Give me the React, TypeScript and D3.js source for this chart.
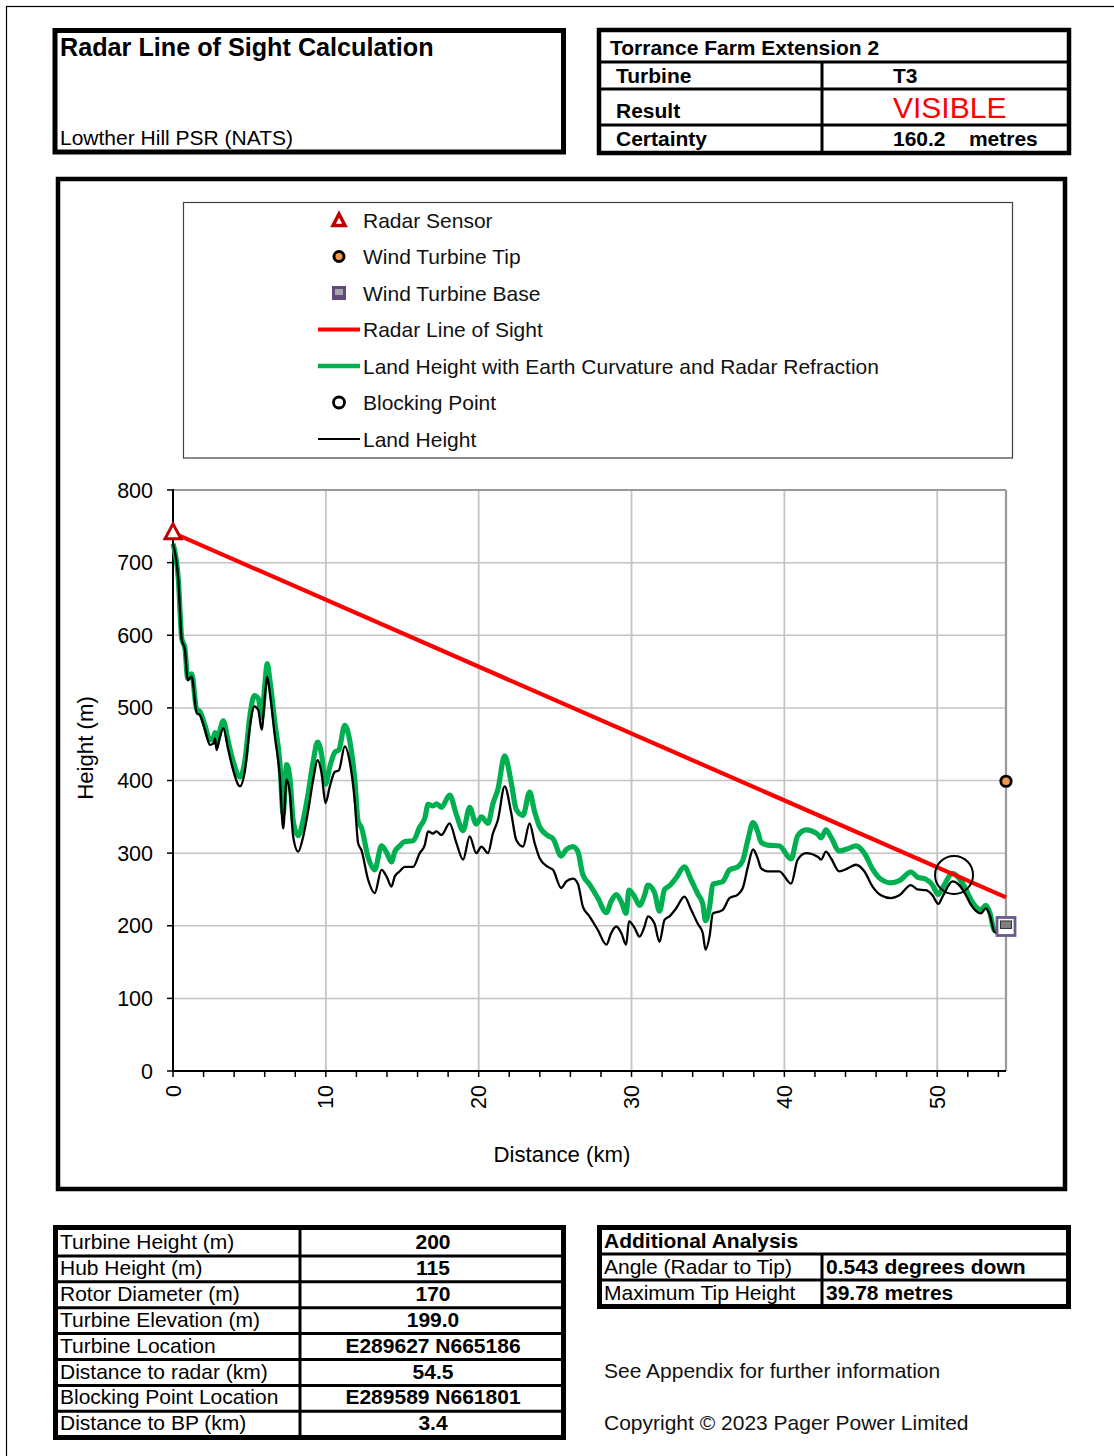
import React from "react";
import * as d3 from "d3";

// Terrain profile from the radar (0 km) to the turbine (54.5 km)
const distanceKm = [
  0, 0.35, 0.57, 0.78, 0.96, 1.22, 1.55, 1.76, 2.09, 2.42, 2.64, 2.75, 2.85, 3.07, 3.29, 3.62, 3.94, 4.38, 4.71, 5.03,
  5.32, 5.58, 5.8, 6.01, 6.16, 6.34, 6.67, 6.99, 7.21, 7.43, 7.65, 7.86, 8.19, 8.52, 8.85, 9.17, 9.46, 9.72, 9.98, 10.26,
  10.59, 10.85, 11.24, 11.57, 11.9, 12.11, 12.33, 12.77, 13.2, 13.64, 13.97, 14.29, 14.51, 14.84, 15.16, 15.71, 16.14, 16.47, 16.69, 17.02,
  17.24, 17.56, 18.1, 18.54, 18.98, 19.41, 19.84, 20.18, 20.61, 20.93, 21.26, 21.7, 22.13, 22.46, 22.9, 23.33, 23.66, 23.99, 24.53, 24.86,
  25.4, 25.73, 26.17, 26.49, 26.82, 27.25, 27.8, 28.35, 28.67, 29.0, 29.33, 29.65, 29.83, 30.2, 30.52, 30.85, 31.07, 31.5, 31.83, 32.16,
  32.48, 32.92, 33.46, 33.9, 34.33, 34.66, 34.84, 35.1, 35.32, 35.64, 35.97, 36.41, 36.95, 37.28, 37.6, 37.95, 38.25, 38.48, 38.91, 39.67,
  40.44, 40.87, 41.42, 42.18, 42.4, 42.72, 43.05, 43.59, 44.14, 44.69, 45.23, 45.77, 46.32, 46.97, 47.52, 48.28, 48.71, 49.26, 49.69, 50.07,
  50.35, 51.0, 51.44, 51.88, 52.2, 52.86, 53.18, 53.44, 53.73, 53.95, 54.3,
];

// Land height (m)
const landHeight = [
  726, 676, 594, 580, 538, 543, 493, 490, 470, 449, 451, 458, 442, 460, 472, 442, 414, 392, 414, 474,
  502, 497, 470, 515, 543, 520, 460, 405, 334, 401, 382, 323, 302, 323, 359, 401, 428, 410, 369, 392,
  412, 414, 447, 425, 370, 314, 304, 263, 245, 277, 268, 254, 268, 275, 281, 281, 300, 311, 330, 327,
  330, 325, 341, 314, 291, 323, 300, 309, 300, 327, 346, 392, 355, 318, 309, 341, 314, 293, 281, 277,
  252, 261, 265, 258, 226, 213, 194, 174, 190, 199, 190, 174, 206, 197, 185, 199, 213, 203, 178, 208,
  213, 224, 240, 222, 203, 190, 167, 185, 217, 219, 222, 238, 243, 252, 280, 305, 293, 279, 275, 275,
  258, 291, 300, 295, 291, 302, 293, 275, 279, 284, 275, 254, 242, 238, 242, 256, 250, 249, 242, 230,
  240, 261, 256, 242, 229, 217, 224, 215, 192, 190, 196,
];

// Land height with earth curvature and radar refraction (m)
const adjustedHeight = [
  726, 677, 596, 582, 541, 547, 498, 495, 476, 456, 459, 466, 451, 469, 482, 453, 426, 405, 428, 489,
  517, 513, 487, 532, 561, 538, 479, 425, 354, 422, 403, 345, 324, 346, 383, 426, 453, 436, 395, 419,
  439, 442, 476, 454, 400, 344, 335, 294, 277, 310, 301, 288, 302, 310, 316, 317, 336, 348, 367, 365,
  368, 363, 380, 353, 331, 363, 340, 350, 341, 368, 388, 434, 397, 360, 352, 384, 357, 336, 324, 320,
  296, 305, 309, 302, 270, 257, 238, 218, 234, 243, 233, 217, 249, 240, 228, 242, 256, 246, 220, 250,
  255, 266, 281, 263, 244, 230, 207, 225, 257, 259, 261, 277, 281, 290, 317, 342, 330, 315, 311, 310,
  292, 324, 332, 326, 321, 332, 322, 303, 306, 310, 300, 278, 264, 259, 262, 274, 267, 264, 256, 243,
  252, 272, 265, 250, 236, 222, 228, 218, 194, 192, 197,
];

// Radar line of sight (km, m)
const losDistance = [0, 54.5];
const losHeight = [741, 239];

// Point markers: [distance km, height m]
const radarSensor = [0, 741];
const turbineTip = [54.5, 399];
const turbineBase = [54.5, 199];
const blockingPoint = [51.1, 270];

const yTicks = [0, 100, 200, 300, 400, 500, 600, 700, 800];
const xLabelTicks = [0, 10, 20, 30, 40, 50];
const xMinorTicks = d3.range(0, 55, 2);

const legendItems = [
  "Radar Sensor",
  "Wind Turbine Tip",
  "Wind Turbine Base",
  "Radar Line of Sight",
  "Land Height with Earth Curvature and Radar Refraction",
  "Blocking Point",
  "Land Height",
];

const summaryRows: [string, string][] = [
  ["Turbine Height (m)", "200"],
  ["Hub Height (m)", "115"],
  ["Rotor Diameter (m)", "170"],
  ["Turbine Elevation (m)", "199.0"],
  ["Turbine Location", "E289627 N665186"],
  ["Distance to radar (km)", "54.5"],
  ["Blocking Point Location", "E289589 N661801"],
  ["Distance to BP (km)", "3.4"],
];

const analysisRows: [string, string][] = [
  ["Angle (Radar to Tip)", "0.543 degrees down"],
  ["Maximum Tip Height", "39.78 metres"],
];

const FONT = "'Liberation Sans', Arial, Helvetica, sans-serif";
const FS = 21;

const RED = "#ff0000";
const GREEN = "#00b050";
const GRID = "#c4c4c4";

function LegendSymbol({ kind, cx, cy }: { kind: number; cx: number; cy: number }) {
  switch (kind) {
    case 0:
      return (
        <path
          d={`M${cx},${cy - 6} L${cx + 6},${cy + 5.5} L${cx - 6},${cy + 5.5} Z`}
          fill="#fff"
          stroke="#c00000"
          strokeWidth={3.5}
        />
      );
    case 1:
      return <circle cx={cx} cy={cy} r={5} fill="#f79646" stroke="#000" strokeWidth={3} />;
    case 2:
      return (
        <g>
          <rect x={cx - 7} y={cy - 7} width={14} height={14} fill="#604a7b" />
          <rect x={cx - 4} y={cy - 4} width={8} height={6} fill="#a6a6a6" />
        </g>
      );
    case 3:
      return <line x1={cx - 21} x2={cx + 21} y1={cy} y2={cy} stroke={RED} strokeWidth={4} />;
    case 4:
      return <line x1={cx - 21} x2={cx + 21} y1={cy} y2={cy} stroke={GREEN} strokeWidth={4.5} />;
    case 5:
      return <circle cx={cx} cy={cy} r={5.5} fill="#fff" stroke="#000" strokeWidth={2.8} />;
    default:
      return <line x1={cx - 21} x2={cx + 21} y1={cy} y2={cy} stroke="#000" strokeWidth={2} />;
  }
}

export default function App() {
  const x = d3.scaleLinear().domain([0, 54.5]).range([173, 1006]);
  const y = d3.scaleLinear().domain([0, 800]).range([1071, 490]);

  const pts = distanceKm.map((d, i) => ({ d, land: landHeight[i], adj: adjustedHeight[i] }));
  const landLine = d3
    .line<{ d: number; land: number }>()
    .x((p) => x(p.d))
    .y((p) => y(p.land))
    .curve(d3.curveMonotoneX);
  const adjLine = d3
    .line<{ d: number; adj: number }>()
    .x((p) => x(p.d))
    .y((p) => y(p.adj))
    .curve(d3.curveMonotoneX);
  const losLine = d3
    .line<number>()
    .x((d) => x(d))
    .y((_, i) => y(losHeight[i]));

  const [x0, x1] = x.range();
  const [yb, yt] = y.range();

  const rx = x(radarSensor[0]);
  const ry = y(radarSensor[1]);
  const bx = x(turbineBase[0]);
  const by = y(turbineBase[1]);

  const legendX = 339;
  const legendY0 = 220;
  const legendStep = 36.5;

  return (
    <div style={{ position: "absolute", left: 0, top: 0 }}>
      <svg width={1114} height={1456} style={{ display: "block", fontFamily: FONT }}>
        <rect x={0} y={0} width={1114} height={1456} fill="#fff" />
        {/* page frame */}
        <rect x={6.5} y={6.5} width={1130} height={1470} fill="none" stroke="#000" strokeWidth={1.2} />

        {/* title box */}
        <rect x={55} y={30.5} width={508.5} height={121.5} fill="#fff" stroke="#000" strokeWidth={5} />
        <text x={60} y={56} fontSize={25.2} fontWeight="bold">Radar Line of Sight Calculation</text>
        <text x={60} y={145} fontSize={FS}>Lowther Hill PSR (NATS)</text>

        {/* result box */}
        <g>
          <rect x={599} y={30} width={470} height={123} fill="#fff" stroke="#000" strokeWidth={4.5} />
          <line x1={599} x2={1069} y1={62} y2={62} stroke="#000" strokeWidth={3} />
          <line x1={599} x2={1069} y1={89} y2={89} stroke="#000" strokeWidth={3} />
          <line x1={599} x2={1069} y1={125} y2={125} stroke="#000" strokeWidth={3} />
          <line x1={822} x2={822} y1={62} y2={153} stroke="#000" strokeWidth={3} />
          <text x={610} y={55} fontSize={FS} fontWeight="bold">Torrance Farm Extension 2</text>
          <text x={616} y={83} fontSize={FS} fontWeight="bold">Turbine</text>
          <text x={893} y={83} fontSize={FS} fontWeight="bold">T3</text>
          <text x={616} y={118} fontSize={FS} fontWeight="bold">Result</text>
          <text x={893} y={118} fontSize={30} fill={RED}>VISIBLE</text>
          <text x={616} y={146} fontSize={FS} fontWeight="bold">Certainty</text>
          <text x={893} y={146} fontSize={FS} fontWeight="bold" xmlSpace="preserve">160.2    metres</text>
        </g>

        {/* chart frame */}
        <rect x={58} y={179} width={1007} height={1010} fill="#fff" stroke="#000" strokeWidth={4.5} />

        {/* legend */}
        <rect x={183.5} y={202.5} width={829} height={255.5} fill="#fff" stroke="#404040" strokeWidth={1.2} />
        {legendItems.map((label, i) => {
          const cy = legendY0 + i * legendStep;
          return (
            <g key={label}>
              <LegendSymbol kind={i} cx={legendX} cy={cy} />
              <text x={363} y={cy + 7.5} fontSize={21} fill="#111">{label}</text>
            </g>
          );
        })}

        {/* grid */}
        {yTicks.slice(1, -1).map((t) => (
          <line key={`gy${t}`} x1={x0} x2={x1} y1={y(t)} y2={y(t)} stroke={GRID} strokeWidth={1.5} />
        ))}
        {xLabelTicks.slice(1).map((t) => (
          <line key={`gx${t}`} x1={x(t)} x2={x(t)} y1={yb} y2={yt} stroke={GRID} strokeWidth={1.8} />
        ))}
        <line x1={x0} x2={x1} y1={yt} y2={yt} stroke="#9a9a9a" strokeWidth={2.2} />
        <line x1={x1} x2={x1} y1={yt} y2={yb} stroke="#9a9a9a" strokeWidth={2.2} />

        {/* axes */}
        <line x1={x0} x2={x0} y1={yt - 1} y2={yb} stroke="#000" strokeWidth={2} />
        <line x1={x0} x2={x1} y1={yb} y2={yb} stroke="#000" strokeWidth={2} />
        {yTicks.map((t) => (
          <g key={`ty${t}`}>
            <line x1={x0 - 6} x2={x0} y1={y(t)} y2={y(t)} stroke="#000" strokeWidth={1.5} />
            <text x={153} y={y(t) + 7.5} fontSize={21.5} textAnchor="end">{t}</text>
          </g>
        ))}
        {xMinorTicks.map((t) => (
          <line key={`tx${t}`} x1={x(t)} x2={x(t)} y1={yb} y2={yb + 6} stroke="#000" strokeWidth={1.5} />
        ))}
        {xLabelTicks.map((t) => (
          <text
            key={`lx${t}`}
            transform={`translate(${x(t) + 7.5},${yb + 14}) rotate(-90)`}
            fontSize={21.5}
            textAnchor="end"
          >
            {t}
          </text>
        ))}
        <text x={562} y={1162} fontSize={22.2} textAnchor="middle">Distance (km)</text>
        <text transform={`translate(93,748) rotate(-90)`} fontSize={22.2} textAnchor="middle">Height (m)</text>

        {/* series */}
        <path d={adjLine(pts) ?? ""} fill="none" stroke={GREEN} strokeWidth={5.2} strokeLinejoin="round" />
        <path d={landLine(pts) ?? ""} fill="none" stroke="#000" strokeWidth={2.3} strokeLinejoin="round" />
        <path d={losLine(losDistance) ?? ""} fill="none" stroke={RED} strokeWidth={4.2} />

        {/* markers */}
        <path
          d={`M${rx},${ry - 9} L${rx + 8},${ry + 6} L${rx - 8},${ry + 6} Z`}
          fill="#fff"
          stroke="#c00000"
          strokeWidth={3}
        />
        <circle cx={x(turbineTip[0])} cy={y(turbineTip[1])} r={5.2} fill="#f79646" stroke="#000" strokeWidth={2.8} />
        <g>
          <rect x={bx - 9} y={by - 9} width={18} height={18} fill="#fff" stroke="#6c5a8a" strokeWidth={2.8} />
          <rect x={bx - 5.5} y={by - 5.5} width={11} height={7.5} fill="#7f7f7f" stroke="#333" strokeWidth={1} />
        </g>
        <circle cx={x(blockingPoint[0])} cy={y(blockingPoint[1])} r={19} fill="none" stroke="#000" strokeWidth={2} />

        {/* turbine summary table */}
        <g>
          <rect x={55.5} y={1227.5} width={508} height={210} fill="#fff" stroke="#000" strokeWidth={5} />
          {summaryRows.slice(1).map((_, i) => {
            const yy = 1230 + (i + 1) * 25.9;
            return <line key={`sr${i}`} x1={55} x2={564} y1={yy} y2={yy} stroke="#000" strokeWidth={3} />;
          })}
          <line x1={300} x2={300} y1={1228} y2={1437} stroke="#000" strokeWidth={3} />
          {summaryRows.map(([label, value], i) => {
            const base = 1249 + i * 25.9;
            return (
              <g key={label}>
                <text x={60} y={base} fontSize={FS}>{label}</text>
                <text x={433} y={base} fontSize={FS} fontWeight="bold" textAnchor="middle">{value}</text>
              </g>
            );
          })}
        </g>

        {/* additional analysis table */}
        <g>
          <rect x={599.5} y={1227.5} width={469} height={79} fill="#fff" stroke="#000" strokeWidth={5} />
          <line x1={600} x2={1068} y1={1254} y2={1254} stroke="#000" strokeWidth={3} />
          <line x1={600} x2={1068} y1={1280} y2={1280} stroke="#000" strokeWidth={3} />
          <line x1={822} x2={822} y1={1254} y2={1306} stroke="#000" strokeWidth={3} />
          <text x={604} y={1248} fontSize={FS} fontWeight="bold">Additional Analysis</text>
          {analysisRows.map(([label, value], i) => {
            const base = 1274 + i * 26;
            return (
              <g key={label}>
                <text x={604} y={base} fontSize={FS}>{label}</text>
                <text x={826} y={base} fontSize={FS} fontWeight="bold">{value}</text>
              </g>
            );
          })}
        </g>

        <text x={604} y={1378} fontSize={21} fill="#111">See Appendix for further information</text>
        <text x={604} y={1430} fontSize={21} fill="#111">Copyright © 2023 Pager Power Limited</text>
      </svg>
    </div>
  );
}
